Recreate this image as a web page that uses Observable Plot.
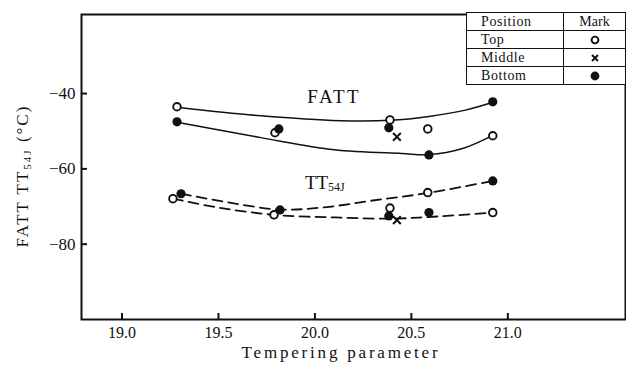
<!DOCTYPE html>
<html>
<head>
<meta charset="utf-8">
<script src="https://cdn.jsdelivr.net/npm/d3@7"></script>
<script src="https://cdn.jsdelivr.net/npm/@observablehq/plot@0.6"></script>
<style>
  body { margin: 0; background: #fff; }
  #wrap { position: relative; width: 626px; height: 373px; font-family: "Liberation Serif", "DejaVu Serif", serif; color: #111; }
  #legend { position: absolute; left: 466px; top: 12px; border-collapse: collapse; font-size: 14px; background: #fff; }
  #legend td { border: 1.6px solid #111; height: 17px; padding: 0; line-height: 16px; }
  #legend td.name { width: 82px; padding-left: 14px; letter-spacing: 0.6px; }
  #legend td.mark { width: 61px; text-align: center; }
  #legend svg { display: inline-block; vertical-align: middle; }
</style>
</head>
<body>
<div id="wrap"></div>
<script>
// Axis ticks
const xTicks = [19.0, 19.5, 20.0, 20.5, 21.0];
const yTicks = [-40, -60, -80];

// Measured transition temperatures (°C) against tempering parameter, by position in the forging
const topFattX    = [19.285, 19.793, 20.389, 20.585, 20.922];
const topFatt     = [-43.5, -50.4, -47.0, -49.4, -51.2];
const topTtX      = [19.264, 19.788, 20.389, 20.585, 20.922];
const topTt       = [-67.9, -72.2, -70.4, -66.3, -71.6];
const bottomFattX = [19.285, 19.813, 20.383, 20.591, 20.922];
const bottomFatt  = [-47.5, -49.4, -49.1, -56.3, -42.2];
const bottomTtX   = [19.306, 19.819, 20.383, 20.591, 20.922];
const bottomTt    = [-66.6, -70.9, -72.5, -71.6, -63.2];
const middleX     = [20.425];
const middleFatt  = [-51.5];
const middleTt    = [-73.6];

// Hand-fitted trend curves
const fattUpperX = [19.285, 19.72, 20.13, 20.39, 20.6, 20.78, 20.922];
const fattUpper  = [-43.6, -45.9, -47.2, -47.1, -46.0, -44.4, -42.3];
const fattLowerX = [19.285, 19.72, 20.1, 20.45, 20.59, 20.77, 20.922];
const fattLower  = [-47.6, -51.7, -54.9, -55.9, -56.2, -54.5, -51.1];
const ttUpperX   = [19.306, 19.55, 19.819, 20.05, 20.3, 20.585, 20.922];
const ttUpper    = [-66.6, -68.9, -70.8, -70.2, -68.4, -66.4, -63.2];
const ttLowerX   = [19.264, 19.5, 19.788, 20.1, 20.4, 20.65, 20.922];
const ttLower    = [-67.9, -70.3, -72.2, -72.9, -73.2, -72.6, -71.6];

const zip = (xs, ys) => xs.map((x, i) => ({x, y: ys[i]}));

const openPts   = [...zip(topFattX, topFatt), ...zip(topTtX, topTt)];
const filledPts = [...zip(bottomFattX, bottomFatt), ...zip(bottomTtX, bottomTt)];
const crossPts  = [...zip(middleX, middleFatt), ...zip(middleX, middleTt)];

const serif = '"Liberation Serif", "DejaVu Serif", serif';
const W = 626, H = 373, mL = 81, mR = 1, mT = 14, mB = 54;

const chart = Plot.plot({
  width: W,
  height: H,
  marginLeft: mL,
  marginRight: mR,
  marginTop: mT,
  marginBottom: mB,
  style: {fontFamily: serif, fontSize: "16px", color: "#111", background: "#fff"},
  x: {domain: [18.79, 21.61]},
  y: {domain: [-100, -19]},
  marks: [
    Plot.line(zip(fattUpperX, fattUpper), {x: "x", y: "y", curve: "catmull-rom", stroke: "#111", strokeWidth: 1.5}),
    Plot.line(zip(fattLowerX, fattLower), {x: "x", y: "y", curve: "catmull-rom", stroke: "#111", strokeWidth: 1.5}),
    Plot.line(zip(ttUpperX, ttUpper), {x: "x", y: "y", curve: "catmull-rom", stroke: "#111", strokeWidth: 1.8, strokeDasharray: "10,6"}),
    Plot.line(zip(ttLowerX, ttLower), {x: "x", y: "y", curve: "catmull-rom", stroke: "#111", strokeWidth: 1.8, strokeDasharray: "10,6"}),
    Plot.dot(openPts, {x: "x", y: "y", r: 3.8, fill: "#fff", stroke: "#111", strokeWidth: 1.9}),
    Plot.dot(filledPts, {x: "x", y: "y", r: 4.6, fill: "#111", stroke: "none"}),
    Plot.dot(crossPts, {x: "x", y: "y", symbol: "times", r: 3.6, stroke: "#111", strokeWidth: 2}),
    Plot.text(["FATT"], {x: 20.1, y: -40.9, text: d => d, fontSize: 19, fill: "#111"}),
    Plot.text(["TT"], {x: 19.948, y: -63.7, text: d => d, fontSize: 19, textAnchor: "start", fill: "#111"}),
    Plot.text(["54J"], {x: 19.948, y: -63.7, text: d => d, fontSize: 12, textAnchor: "start", dx: 23, dy: 4, fill: "#111"}),
    // inward tick marks
    Plot.tickX(xTicks, {x: d => d, stroke: "#111", strokeWidth: 2, insetTop: H - mT - mB - 6}),
    Plot.tickY(yTicks, {y: d => d, stroke: "#111", strokeWidth: 2, insetRight: W - mL - mR - 6}),
    Plot.axisX({ticks: xTicks, tickSize: 0, tickPadding: 7, tickFormat: d3.format(".1f"), label: null}),
    Plot.axisY({ticks: yTicks, tickSize: 0, tickPadding: 6, label: null, fontSize: 17}),
    Plot.frame({stroke: "#111", strokeWidth: 2})
  ]
});

const svg = d3.select(chart);
svg.selectAll("text").filter(function () { return this.textContent === "FATT"; })
  .style("letter-spacing", "2.5px");

// x-axis title
svg.append("text")
  .attr("x", 341).attr("y", 354)
  .attr("text-anchor", "middle")
  .attr("dominant-baseline", "middle")
  .attr("fill", "#111")
  .style("font-family", serif)
  .style("font-size", "17px")
  .style("letter-spacing", "2.8px")
  .text("Tempering parameter");

// Rotated y-axis title with subscript
const yl = svg.append("text")
  .attr("transform", "translate(24,176) rotate(-90)")
  .attr("text-anchor", "middle")
  .attr("dominant-baseline", "middle")
  .attr("fill", "#111")
  .style("font-family", serif)
  .style("font-size", "17px")
  .style("letter-spacing", "2px");
yl.append("tspan").text("FATT TT");
yl.append("tspan").attr("font-size", "11px").attr("dy", "4").text("54J");
yl.append("tspan").attr("dy", "-4").text(" (°C)");

const wrap = document.getElementById("wrap");
wrap.appendChild(chart);

// Position / mark key
const icon = {
  open:   '<svg width="12" height="12"><circle cx="6" cy="6" r="3.4" fill="#fff" stroke="#111" stroke-width="1.9"/></svg>',
  cross:  '<svg width="12" height="12"><path d="M3,3L9,9M9,3L3,9" stroke="#111" stroke-width="2"/></svg>',
  filled: '<svg width="12" height="12"><circle cx="6" cy="6" r="4.4" fill="#111"/></svg>'
};
const keyNames = ["Top", "Middle", "Bottom"];
const keyIcons = ["open", "cross", "filled"];
const table = document.createElement("table");
table.id = "legend";
let html = '<tr><td class="name">Position</td><td class="mark">Mark</td></tr>';
keyNames.forEach((n, i) => { html += `<tr><td class="name">${n}</td><td class="mark">${icon[keyIcons[i]]}</td></tr>`; });
table.innerHTML = html;
wrap.appendChild(table);
</script>
</body>
</html>
